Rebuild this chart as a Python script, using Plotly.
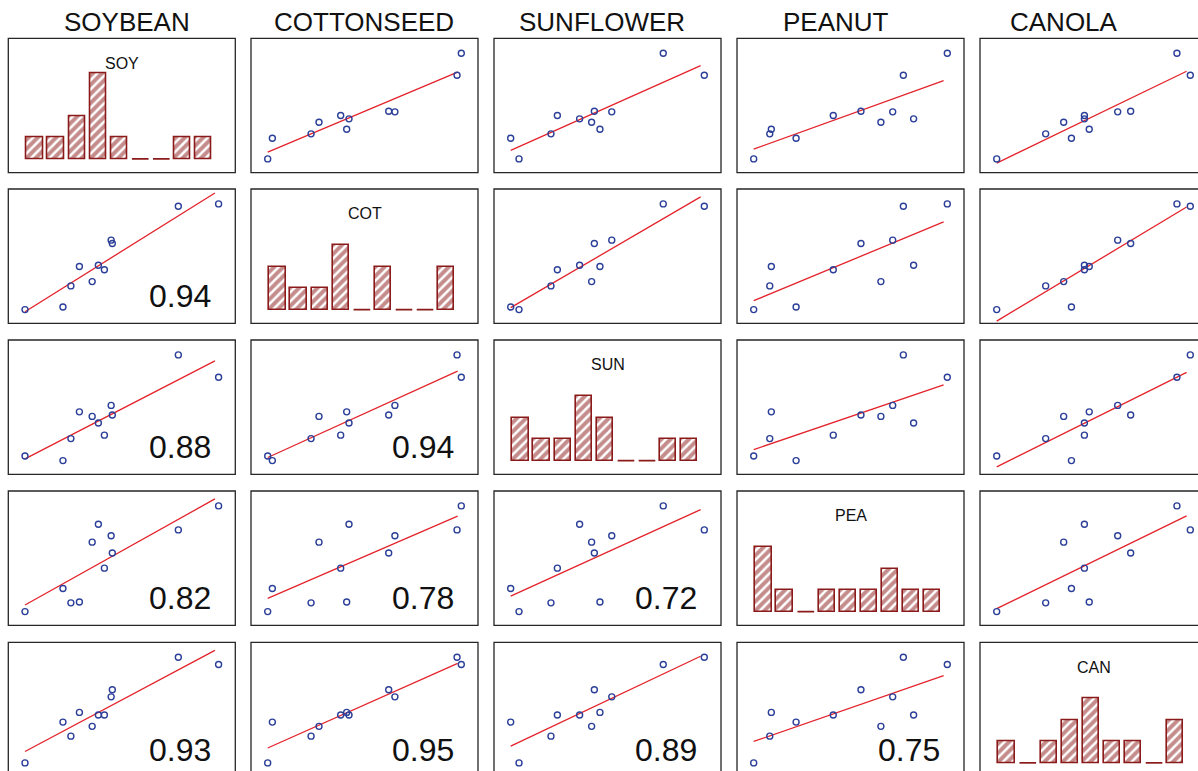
import numpy as np
import plotly.graph_objects as go

# ---------------- data (index units 0-100) ----------------
variables = ["SOY", "COT", "SUN", "PEA", "CAN"]
headers = ["SOYBEAN", "COTTONSEED", "SUNFLOWER", "PEANUT", "CANOLA"]

soy = [0.0, 19.6, 23.7, 34.7, 41.0, 28.1, 37.9, 45.1, 44.5, 79.2, 100.0]
cot = [0.0, 2.4, 22.4, 26.5, 37.7, 40.8, 42.0, 62.5, 65.7, 97.8, 100.0]
sun = [4.3, 0.0, 20.8, 41.8, 24.1, 46.1, 35.6, 43.2, 52.2, 100.0, 78.8]
pea = [0.0, 21.9, 8.3, 65.7, 41.1, 9.1, 82.6, 55.4, 71.8, 77.3, 100.0]
can = [0.0, 38.6, 25.3, 34.6, 45.3, 47.8, 45.3, 69.2, 62.5, 100.0, 93.1]

soy_counts = [1, 1, 2, 4, 1, 0, 0, 1, 1]
cot_counts = [2, 1, 1, 3, 0, 2, 0, 0, 2]
sun_counts = [2, 1, 1, 3, 2, 0, 0, 1, 1]
pea_counts = [3, 1, 0, 1, 1, 1, 2, 1, 1]
can_counts = [1, 0, 1, 2, 3, 1, 1, 0, 2]

corr_row2 = ["0.94"]
corr_row3 = ["0.88", "0.94"]
corr_row4 = ["0.82", "0.78", "0.72"]
corr_row5 = ["0.93", "0.95", "0.89", "0.75"]

series = [soy, cot, sun, pea, can]
counts = [soy_counts, cot_counts, sun_counts, pea_counts, can_counts]
corr_rows = [[], corr_row2, corr_row3, corr_row4, corr_row5]

# ---------------- geometry / style ----------------
W, H = 1198, 771
col_left = [8.3, 251.0, 494.0, 737.0, 980.0]
row_top = [38.3, 189.0, 340.0, 491.0, 642.3]
PW, PH = 227.0, 134.3
header_cx = [127, 364, 602, 835.5, 1063.5]
header_cy = 22

X_PAD, X_SCALE = 16.7, 1.936     # px offset of value 0, px per unit
Y_PAD, Y_SCALE = 13.7, 1.057
BIN_C0, BIN_PITCH, BAR_W = 26.75, 21.04, 0.79
CNT_SCALE = 21.5

FONT = "Liberation Sans, Arial, Helvetica, sans-serif"
MARK = "#2B3F98"
LINE = "#E3232B"
HIST = "#8B1A1A"
BORDER = "#262626"

fig = go.Figure()
layout = {}
shapes = []
annotations = []

for i in range(5):
    for j in range(5):
        k = i * 5 + j + 1
        xa = "x" if k == 1 else f"x{k}"
        ya = "y" if k == 1 else f"y{k}"
        xname = "xaxis" if k == 1 else f"xaxis{k}"
        yname = "yaxis" if k == 1 else f"yaxis{k}"

        l = col_left[j]
        t = row_top[i]
        r_vis = min(l + PW, W)
        b = t + PH
        b_vis = min(b, H)
        vw = r_vis - l
        cut_b = b - b_vis

        if i == j:
            x0 = -BIN_C0 / BIN_PITCH
            x1 = x0 + vw / BIN_PITCH
            y0 = (-Y_PAD + cut_b) / CNT_SCALE
            y1 = (-Y_PAD + PH) / CNT_SCALE
        else:
            x0 = -X_PAD / X_SCALE
            x1 = x0 + vw / X_SCALE
            y0 = (-Y_PAD + cut_b) / Y_SCALE
            y1 = (-Y_PAD + PH) / Y_SCALE

        layout[xname] = dict(domain=[l / W, r_vis / W], range=[x0, x1], visible=False,
                             fixedrange=True, anchor=ya)
        layout[yname] = dict(domain=[1 - b_vis / H, 1 - t / H], range=[y0, y1], visible=False,
                             fixedrange=True, anchor=xa)

        if i == j:
            cnt = counts[i]
            bins = list(range(len(cnt)))
            nz_x = [b_ for b_, c in zip(bins, cnt) if c > 0]
            nz_y = [c for c in cnt if c > 0]
            fig.add_trace(go.Bar(
                x=nz_x, y=nz_y, width=BAR_W, xaxis=xa, yaxis=ya,
                marker=dict(color="white",
                            line=dict(color=HIST, width=1.6),
                            pattern=dict(shape="/", fgcolor=HIST, bgcolor="white",
                                         size=6.5, solidity=0.62)),
                showlegend=False, hoverinfo="skip"))
            ex, ey = [], []
            for b_, c in zip(bins, cnt):
                if c == 0:
                    ex += [b_ - BAR_W / 2, b_ + BAR_W / 2, None]
                    ey += [0, 0, None]
            if ex:
                fig.add_trace(go.Scatter(x=ex, y=ey, mode="lines", xaxis=xa, yaxis=ya,
                                         line=dict(color=HIST, width=1.6),
                                         showlegend=False, hoverinfo="skip"))
            annotations.append(dict(text=variables[i], xref="paper", yref="paper",
                                    x=(l + PW / 2) / W, y=1 - (t + 24.7) / H,
                                    xanchor="center", yanchor="middle", showarrow=False,
                                    font=dict(family=FONT, size=16, color="#111111")))
        else:
            xv = np.array(series[j], dtype=float)
            yv = np.array(series[i], dtype=float)
            slope, icpt = np.polyfit(xv, yv, 1)
            xl = np.array([xv.min(), xv.min() + 0.981 * (xv.max() - xv.min())])
            fig.add_trace(go.Scatter(x=xl, y=slope * xl + icpt, mode="lines",
                                     xaxis=xa, yaxis=ya,
                                     line=dict(color=LINE, width=1.3),
                                     showlegend=False, hoverinfo="skip"))
            fig.add_trace(go.Scatter(x=xv, y=yv, mode="markers", xaxis=xa, yaxis=ya,
                                     cliponaxis=False,
                                     marker=dict(symbol="circle-open", size=6, color=MARK,
                                                 line=dict(width=1.4, color=MARK)),
                                     showlegend=False, hoverinfo="skip"))
            if i > j:
                annotations.append(dict(text=corr_rows[i][j], xref="paper", yref="paper",
                                        x=(l + PW - 22.5) / W, y=1 - (b - 27) / H,
                                        xanchor="right", yanchor="middle", showarrow=False,
                                        font=dict(family=FONT, size=32, color="#111111")))

        shapes.append(dict(type="rect", xref="paper", yref="paper",
                           x0=l / W, x1=(l + PW) / W, y0=1 - b / H, y1=1 - t / H,
                           line=dict(color=BORDER, width=1.3), fillcolor="rgba(0,0,0,0)",
                           layer="above"))

for j in range(5):
    annotations.append(dict(text=headers[j], xref="paper", yref="paper",
                            x=header_cx[j] / W, y=1 - header_cy / H,
                            xanchor="center", yanchor="middle", showarrow=False,
                            font=dict(family=FONT, size=26, color="#111111")))

fig.update_layout(width=W, height=H, margin=dict(l=0, r=0, t=0, b=0),
                  paper_bgcolor="white", plot_bgcolor="white",
                  shapes=shapes, annotations=annotations, showlegend=False,
                  bargap=0, **layout)

fig.write_html("out.html", config={"displayModeBar": False},
               post_script="document.body.style.margin='0';document.body.style.overflow='hidden';")
